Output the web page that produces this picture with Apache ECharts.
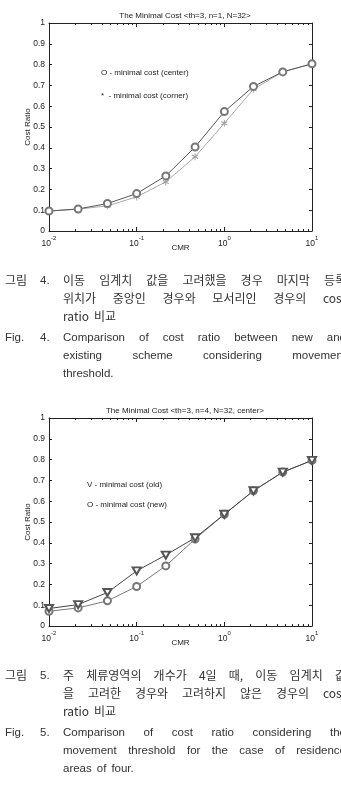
<!DOCTYPE html>
<html><head><meta charset="utf-8">
<script src="https://cdn.jsdelivr.net/npm/echarts@6/dist/echarts.min.js"></script>
<style>
html,body{margin:0;padding:0;background:#fff;width:341px;height:785px;overflow:hidden;}
#chart{position:absolute;left:0;top:0;width:341px;height:785px;}
.row{position:absolute;white-space:nowrap;line-height:18px;height:18px;color:#333;}
.body{position:absolute;left:63px;width:283px;display:flex;justify-content:space-between;white-space:nowrap;line-height:18px;height:18px;color:#333;}
.body.last{justify-content:flex-start;gap:5px;}
.ko{font-family:"Noto Sans CJK KR","Noto Sans",sans-serif;font-size:12px;}
.en{font-family:"Liberation Sans",Arial,sans-serif;font-size:11.5px;}
</style>
</head><body>
<div id="chart"></div>
<div id="caps"></div>
<script>
// ---- data ----
const cmr = [0.01, 0.0215, 0.0464, 0.1, 0.215, 0.464, 1, 2.15, 4.64, 10];
const centerCost = [0.096, 0.106, 0.132, 0.180, 0.265, 0.404, 0.574, 0.695, 0.765, 0.804];
const cornerCost = [0.096, 0.105, 0.121, 0.164, 0.236, 0.357, 0.518, 0.682, 0.765, 0.804];
const oldCost = [0.084, 0.103, 0.161, 0.265, 0.341, 0.424, 0.537, 0.650, 0.740, 0.796];
const newCost = [0.071, 0.087, 0.121, 0.190, 0.289, 0.418, 0.537, 0.650, 0.740, 0.796];
const title1 = 'The Minimal Cost <th=3, n=1, N=32>';
const title2 = 'The Minimal Cost <th=3, n=4, N=32, center>';
const legend1 = ['O - minimal cost (center)', '*  - minimal cost (corner)'];
const legend2 = ['V - minimal cost (old)', 'O - minimal cost (new)'];
const yTicks = [0, 0.1, 0.2, 0.3, 0.4, 0.5, 0.6, 0.7, 0.8, 0.9, 1];
const minorX = [0.02,0.03,0.04,0.05,0.06,0.07,0.08,0.09,0.2,0.3,0.4,0.5,0.6,0.7,0.8,0.9,2,3,4,5,6,7,8,9];
const caption4ko = ['이동 임계치 값을 고려했을 경우 마지막 등록', '위치가 중앙인 경우와 모서리인 경우의 cost', 'ratio 비교'];
const caption4en = ['Comparison of cost ratio between new and', 'existing scheme considering movement', 'threshold.'];
const caption5ko = ['주 체류영역의 개수가 4일 때, 이동 임계치 값', '을 고려한 경우와 고려하지 않은 경우의 cost', 'ratio 비교'];
const caption5en = ['Comparison of cost ratio considering the', 'movement threshold for the case of residence', 'areas of four.'];

const pairs = (xs, ys) => xs.map((x, i) => [x, ys[i]]);
const TXT = '#222', AX = '#222';
const font = 'Liberation Sans, Arial, sans-serif';
const minorLog = minorX.map(v => Math.log10(v));

function xAxes(grid) {
  const base = {type:'log', logBase:10, min:0.01, max:10, gridIndex:grid,
    splitLine:{show:false}, axisLine:{onZero:false, lineStyle:{color:AX, width:1}}};
  const minorBase = {type:'value', min:-2, max:1, gridIndex:grid, splitLine:{show:false},
    axisLine:{show:false, onZero:false}, axisLabel:{show:false},
    axisTick:{inside:true, length:2, customValues:minorLog, lineStyle:{color:AX}}};
  return [
    Object.assign({}, base, {position:'bottom',
      axisTick:{inside:true, length:4, lineStyle:{color:AX}},
      axisLabel:{margin:4, color:TXT, fontFamily:font,
        formatter: v => '{b|10}{e|' + Math.round(Math.log10(v)) + '}',
        rich:{b:{fontSize:8.5, fontFamily:font, color:TXT, verticalAlign:'bottom', lineHeight:13},
              e:{fontSize:6, fontFamily:font, color:TXT, verticalAlign:'top', lineHeight:13}}}}),
    Object.assign({}, base, {position:'top', axisTick:{inside:true, length:4, lineStyle:{color:AX}}, axisLabel:{show:false}}),
    Object.assign({}, minorBase, {position:'bottom'}),
    Object.assign({}, minorBase, {position:'top'})
  ];
}
function yAxes(grid) {
  const base = {type:'value', min:0, max:1, interval:0.1, gridIndex:grid, splitLine:{show:false},
    axisLine:{show:true, onZero:false, lineStyle:{color:AX}}, axisTick:{inside:true, length:3, lineStyle:{color:AX}}};
  return [
    Object.assign({}, base, {position:'left', name:'Cost Ratio', nameLocation:'middle', nameGap:17, nameMoveOverlap:false,
      nameTextStyle:{fontSize:8, fontFamily:font, color:TXT},
      axisLabel:{margin:4, fontSize:8.5, fontFamily:font, color:TXT,
        formatter: v => { const t = yTicks.find(k => Math.abs(k - v) < 1e-9); return String(t); }}}),
    Object.assign({}, base, {position:'right', axisLabel:{show:false}})
  ];
}
const xa = xAxes(0).concat(xAxes(1));
xa[0].name = 'CMR'; xa[4].name = 'CMR';
[0,4].forEach(i => Object.assign(xa[i], {nameLocation:'middle', nameGap:13, nameMoveOverlap:false, nameTextStyle:{fontSize:8, fontFamily:font, color:TXT, verticalAlign:'top'}}));

const starPath = 'path://M0,-5L0,5M-4.3,-2.5L4.3,2.5M-4.3,2.5L4.3,-2.5';

const option = {
  animation:false,
  title:[
    {text:title1, left:180, top:7, textAlign:'center', textStyle:{fontSize:8, fontWeight:'normal', fontFamily:font, color:TXT}},
    {text:title2, left:180, top:402, textAlign:'center', textStyle:{fontSize:8, fontWeight:'normal', fontFamily:font, color:TXT}}
  ],
  grid:[
    {left:49, top:23, width:263, height:208},
    {left:49, top:418, width:263, height:208}
  ],
  xAxis: xa,
  yAxis: yAxes(0).concat(yAxes(1)),
  graphic:[
    {type:'text', left:101, top:69, style:{text:legend1[0], fontSize:8, fontFamily:font, fill:TXT}},
    {type:'text', left:101, top:92, style:{text:legend1[1], fontSize:8, fontFamily:font, fill:TXT}},
    {type:'text', left:87, top:481, style:{text:legend2[0], fontSize:8, fontFamily:font, fill:TXT}},
    {type:'text', left:87, top:501, style:{text:legend2[1], fontSize:8, fontFamily:font, fill:TXT}}
  ],
  series:[
    {type:'line', xAxisIndex:0, yAxisIndex:0, data:pairs(cmr, cornerCost), symbol:starPath, symbolSize:[6,7],
      lineStyle:{color:'#a8a8a8', width:1}, itemStyle:{color:'none', borderColor:'#a0a0a0', borderWidth:1}},
    {type:'line', xAxisIndex:0, yAxisIndex:0, data:pairs(cmr, centerCost), symbol:'emptyCircle', symbolSize:7,
      lineStyle:{color:'#555', width:1}, itemStyle:{color:'#777', borderColor:'#777', borderWidth:1}},
    {type:'line', xAxisIndex:4, yAxisIndex:2, data:pairs(cmr, newCost), symbol:'emptyCircle', symbolSize:7,
      lineStyle:{color:'#777', width:1}, itemStyle:{color:'#777', borderColor:'#777', borderWidth:1}},
    {type:'line', xAxisIndex:4, yAxisIndex:2, data:pairs(cmr, oldCost), symbol:'emptyTriangle', symbolRotate:180, symbolSize:[8,7],
      lineStyle:{color:'#444', width:1}, itemStyle:{color:'#555', borderColor:'#555', borderWidth:1}}
  ]
};
const chart = echarts.init(document.getElementById('chart'), null, {renderer:'canvas'});
chart.setOption(option);

// ---- captions ----
function caption(centers, num, ko, en) {
  const wrap = document.getElementById('caps');
  const add = (txt, cls, y, left) => { const d = document.createElement('div'); d.className = 'row ' + cls; d.style.top = (y - 9) + 'px'; d.style.left = left + 'px'; d.textContent = txt; wrap.appendChild(d); };
  add('그림', 'ko', centers[0], 5); add(num + '.', 'en', centers[0], 40);
  add('Fig.', 'en', centers[3], 5); add(num + '.', 'en', centers[3], 40);
  const lines = ko.map(t => ({t, c:'ko'})).concat(en.map(t => ({t, c:'en'})));
  lines.forEach((ln, i) => {
    const d = document.createElement('div');
    d.className = 'body ' + ln.c + ((i === 2 || i === 5) ? ' last' : '');
    d.style.top = (centers[i] - 9) + 'px';
    ln.t.split(' ').forEach(w => { const s = document.createElement('span'); s.textContent = w; d.appendChild(s); });
    wrap.appendChild(d);
  });
}
caption([280, 298, 316, 337, 355, 373], 4, caption4ko, caption4en);
caption([675, 693, 711, 732, 750, 768], 5, caption5ko, caption5en);
</script>
</body></html>
